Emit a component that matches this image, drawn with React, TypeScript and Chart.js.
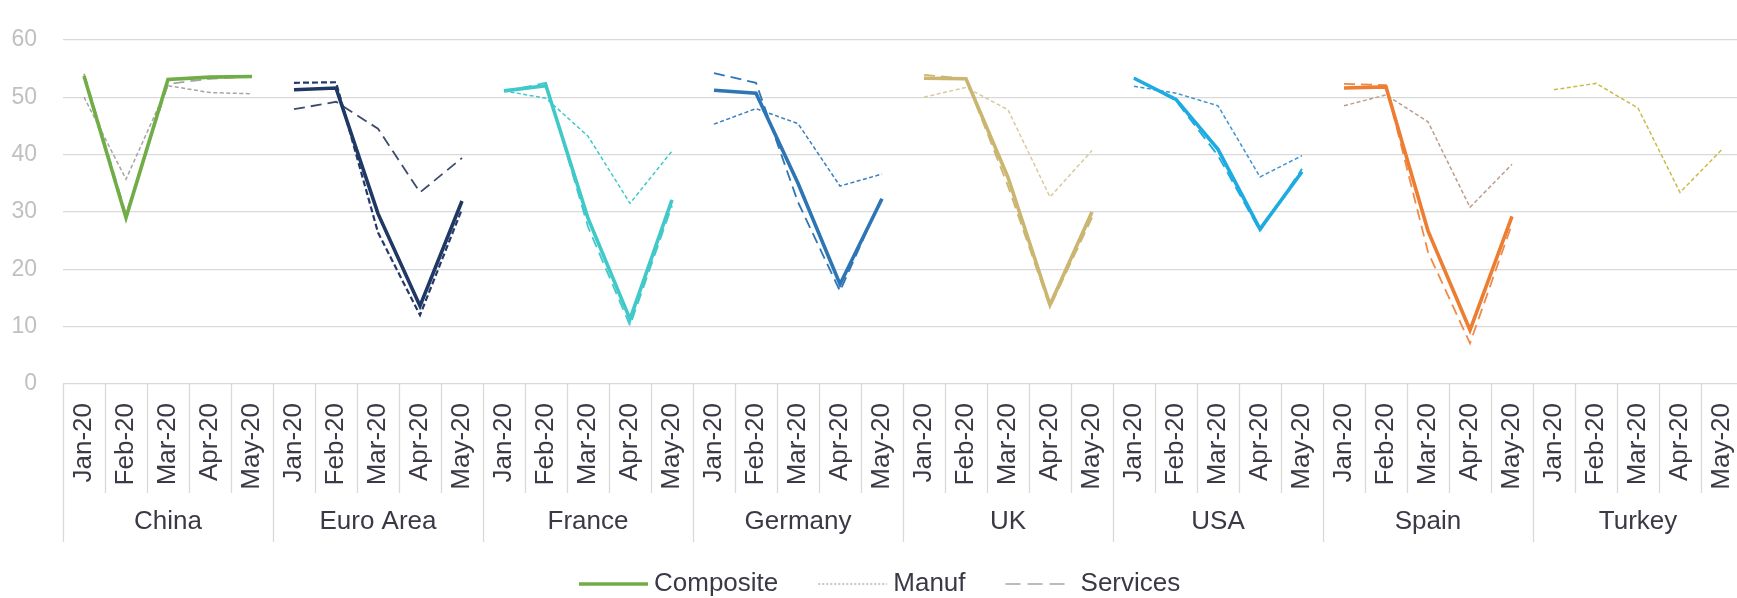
import React, { useEffect, useRef } from 'react';
import { Chart, registerables } from 'chart.js';

Chart.register(...registerables);

// ---- data ----
const countries = ['China', 'Euro Area', 'France', 'Germany', 'UK', 'USA', 'Spain', 'Turkey'];
const months = ['Jan-20', 'Feb-20', 'Mar-20', 'Apr-20', 'May-20'];
const yTicks = [0, 10, 20, 30, 40, 50, 60];

// 5 values per country, in the order of `countries`
const compositeValues = [
  53.7, 29.0, 53.1, 53.5, 53.6,
  51.3, 51.6, 29.7, 13.6, 31.9,
  51.1, 52.0, 28.9, 11.3, 32.1,
  51.2, 50.7, 35.0, 17.4, 32.3,
  53.3, 53.2, 36.0, 13.8, 30.0,
  53.3, 49.6, 40.9, 27.0, 37.0,
  51.6, 51.8, 26.7, 9.4, 29.2,
  null, null, null, null, null,
];
const manufValues = [
  50.0, 35.7, 52.0, 50.8, 50.6,
  52.5, 52.6, 26.4, 12.0, 30.5,
  51.1, 49.8, 43.2, 31.5, 40.6,
  45.3, 48.0, 45.4, 34.5, 36.6,
  50.0, 51.7, 47.8, 32.6, 40.7,
  51.9, 50.7, 48.5, 36.1, 39.8,
  48.5, 50.4, 45.7, 30.8, 38.3,
  51.3, 52.4, 48.1, 33.4, 40.9,
];
const servicesValues = [
  54.1, 29.6, 52.3, 53.2, 53.6,
  47.9, 49.2, 44.5, 33.4, 39.4,
  51.0, 52.5, 27.4, 10.2, 31.1,
  54.2, 52.5, 31.7, 16.2, 32.6,
  53.9, 53.2, 34.5, 13.4, 29.0,
  53.4, 49.4, 39.8, 26.7, 37.5,
  52.3, 52.1, 23.0, 7.1, 27.9,
  null, null, null, null, null,
];

const compositeColors = ['#70AD47', '#1F3864', '#41C9C9', '#2E75B6', '#CBB671', '#1EABE2', '#ED7D31', '#C9B937'];
const manufColors = ['#A5A5A5', '#25396A', '#41C9C9', '#3A7FC0', '#D8CA9E', '#3D93D3', '#BE9C8C', '#CBBB45'];
const servicesColors = ['#A5A5A5', '#3C4B6E', '#41C9C9', '#2E75B6', '#CBB671', '#1EABE2', '#EF8A48', '#C9B937'];

const legendLabels = ['Composite', 'Manuf', 'Services'];

// ---- styles ----
const FONT = '"Liberation Sans", Arial, sans-serif';
const TEXT = '#3a3a46';
const GRID = '#d9d9d9';

const labels = countries.flatMap(() => months);

function seriesFor(values: (number | null)[], ci: number) {
  const d: (number | null)[] = labels.map(() => null);
  for (let k = 0; k < months.length; k++) d[ci * months.length + k] = values[ci * months.length + k];
  return d;
}

const groupPlugin = {
  id: 'groupAxis',
  afterDraw(chart: any) {
    const { ctx, chartArea, scales } = chart;
    const xs = scales.x;
    const w = xs.getPixelForValue(1) - xs.getPixelForValue(0);
    const start = xs.getPixelForValue(0) - w / 2;
    const base = chartArea.bottom;
    ctx.save();
    ctx.strokeStyle = GRID;
    ctx.lineWidth = 1.3;
    for (let i = 0; i <= labels.length; i++) {
      const x = Math.round(start + i * w) + 0.5;
      const isGroup = i % months.length === 0;
      ctx.beginPath();
      ctx.moveTo(x, base);
      ctx.lineTo(x, base + (isGroup ? 158 : 109));
      ctx.stroke();
    }
    ctx.fillStyle = TEXT;
    ctx.font = `26px ${FONT}`;
    ctx.textAlign = 'center';
    ctx.textBaseline = 'middle';
    countries.forEach((c, ci) => {
      const cx = start + (ci * months.length + months.length / 2) * w;
      ctx.fillText(c, cx, base + 138);
    });

    // legend
    const items = [
      { label: legendLabels[0], color: compositeColors[0], width: 3.5, dash: [] as number[], len: 69 },
      { label: legendLabels[1], color: '#A5A5A5', width: 1.2, dash: [2, 2], len: 69 },
      { label: legendLabels[2], color: '#A5A5A5', width: 1.6, dash: [15, 7], len: 59 },
    ];
    ctx.textAlign = 'left';
    const ly = base + 200;
    let lx = 579;
    items.forEach((it) => {
      ctx.beginPath();
      ctx.setLineDash(it.dash);
      ctx.strokeStyle = it.color;
      ctx.lineWidth = it.width;
      ctx.moveTo(lx, ly);
      ctx.lineTo(lx + it.len, ly);
      ctx.stroke();
      ctx.setLineDash([]);
      const tx = lx + it.len + (it.len < 69 ? 16 : 6);
      ctx.fillText(it.label, tx, ly);
      lx = tx + ctx.measureText(it.label).width + 40;
    });
    ctx.restore();
  },
};

export default function App() {
  const ref = useRef<HTMLCanvasElement | null>(null);

  useEffect(() => {
    if (!ref.current) return;
    const datasets: any[] = [];
    countries.forEach((c, ci) => {
      const sv = seriesFor(servicesValues, ci);
      if (sv.some((v) => v !== null)) {
        datasets.push({
          label: `${c} Services`,
          data: sv,
          borderColor: servicesColors[ci],
          borderWidth: 1.8,
          borderDash: [11, 6],
          pointRadius: 0,
          fill: false,
          order: 3,
        });
      }
      const mv = seriesFor(manufValues, ci);
      if (mv.some((v) => v !== null)) {
        datasets.push({
          label: `${c} Manuf`,
          data: mv,
          borderColor: manufColors[ci],
          borderWidth: ci === 1 ? 2.2 : 1.5,
          borderDash: ci === 1 ? [6, 3] : [4, 2.5],
          pointRadius: 0,
          fill: false,
          order: 2,
        });
      }
      const cv = seriesFor(compositeValues, ci);
      if (cv.some((v) => v !== null)) {
        datasets.push({
          label: `${c} Composite`,
          data: cv,
          borderColor: compositeColors[ci],
          borderWidth: 3.6,
          pointRadius: 0,
          fill: false,
          order: 1,
        });
      }
    });

    const chart = new Chart(ref.current, {
      type: 'line',
      data: { labels, datasets },
      options: {
        animation: false,
        responsive: false,
        maintainAspectRatio: false,
        spanGaps: false,
        layout: { padding: { left: 0, top: 24, right: 57, bottom: 0 } },
        plugins: { legend: { display: false }, tooltip: { enabled: false } },
        elements: { line: { tension: 0 } },
        scales: {
          x: {
            type: 'category',
            offset: true,
            grid: { display: false, drawTicks: false },
            border: { display: false },
            ticks: {
              autoSkip: false,
              minRotation: 90,
              maxRotation: 90,
              padding: 19,
              color: TEXT,
              font: { family: FONT, size: 26 },
            },
            afterFit: (s: any) => {
              s.height = 214;
            },
          },
          y: {
            min: 0,
            max: 60,
            afterBuildTicks: (s: any) => {
              s.ticks = yTicks.map((v) => ({ value: v }));
            },
            grid: { color: GRID, lineWidth: 1.3, drawTicks: false },
            border: { display: false },
            ticks: {
              padding: 26,
              color: '#c0c0c0',
              font: { family: FONT, size: 23 },
            },
            afterFit: (s: any) => {
              s.width = 63;
            },
          },
        },
      },
      plugins: [groupPlugin],
    });
    return () => chart.destroy();
  }, []);

  return (
    <div
      style={{
        position: 'fixed',
        left: 0,
        top: 0,
        width: 1737,
        height: 598,
        overflow: 'hidden',
        background: '#ffffff',
      }}
    >
      <canvas ref={ref} width={1800} height={598} style={{ display: 'block', width: 1800, height: 598 }} />
    </div>
  );
}
